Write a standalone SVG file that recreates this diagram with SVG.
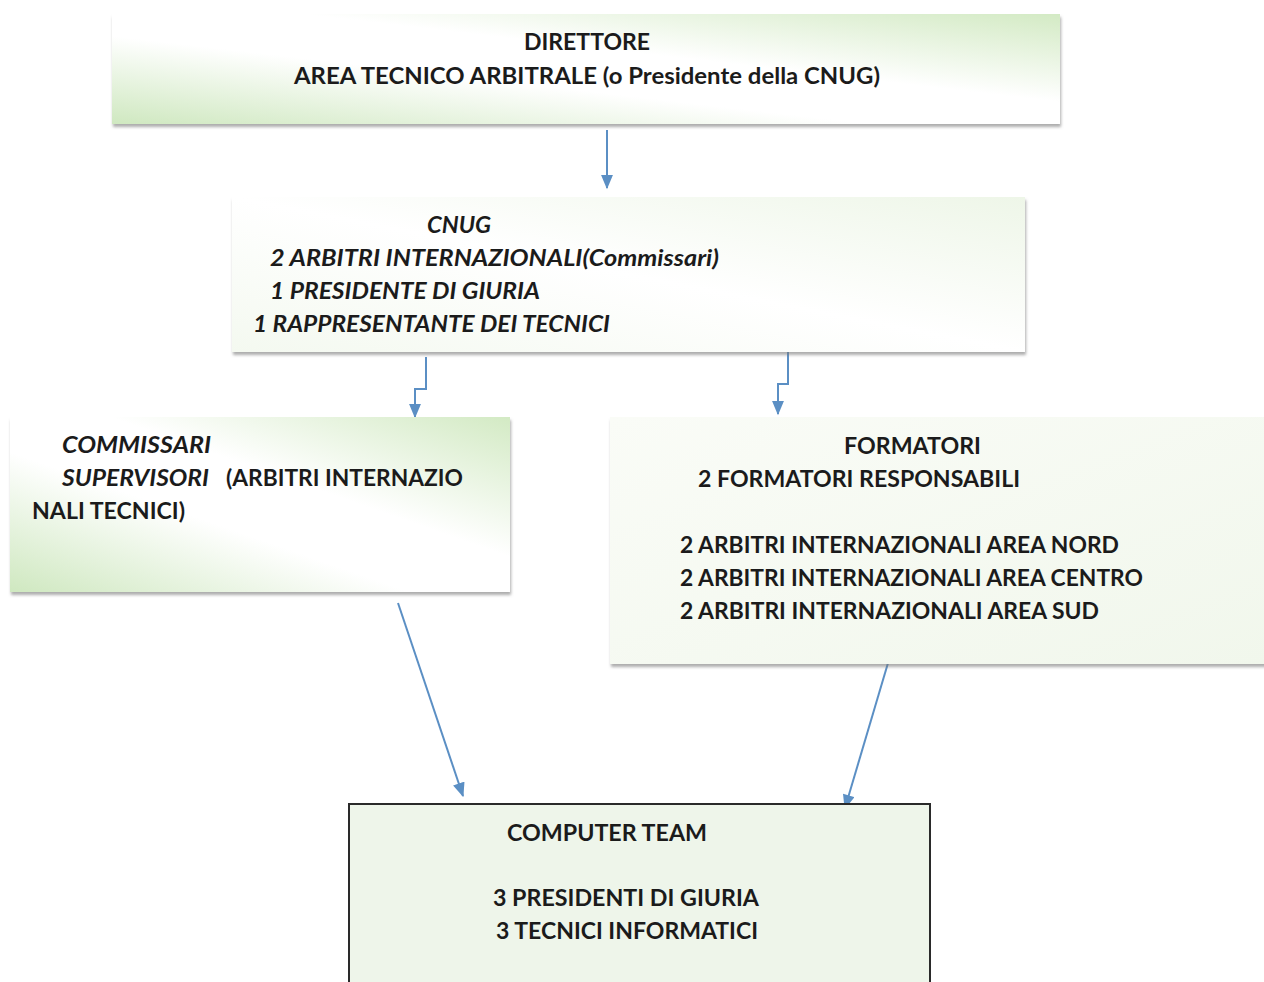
<svg xmlns="http://www.w3.org/2000/svg" width="1264" height="982" viewBox="0 0 1264 982">
<style>
text{font-family:Lato,"Open Sans","Liberation Sans",sans-serif;font-weight:bold;font-size:23px;fill:#1b1b1b}
.i{font-style:italic}
.conn{fill:none;stroke:#5b8fc4;stroke-width:2}
</style>
<defs>
<linearGradient id="gDiag" x1="0" y1="1" x2="1" y2="0">
<stop offset="0" stop-color="#cfe8c0"/>
<stop offset="0.4" stop-color="#ffffff"/>
<stop offset="0.6" stop-color="#ffffff"/>
<stop offset="1" stop-color="#d3eac4"/>
</linearGradient>
<linearGradient id="gLight" x1="0" y1="1" x2="1" y2="0">
<stop offset="0" stop-color="#f4f9f0"/>
<stop offset="0.5" stop-color="#ffffff"/>
<stop offset="1" stop-color="#eef6e8"/>
</linearGradient>
<linearGradient id="gF" x1="0" y1="0" x2="1" y2="1">
<stop offset="0" stop-color="#fafcf7"/>
<stop offset="1" stop-color="#f1f7ec"/>
</linearGradient>
<filter id="sh" x="-5%" y="-10%" width="110%" height="130%">
<feDropShadow dx="1" dy="3" stdDeviation="1.5" flood-color="#777" flood-opacity="0.6"/>
</filter>
<marker id="ah" viewBox="0 0 12 10" refX="11" refY="5" markerWidth="15" markerHeight="12" orient="auto" markerUnits="userSpaceOnUse">
<path d="M0,0 L12,5 L0,10 z" fill="#5b8fc4"/>
</marker>
</defs>

<g id="connectors">
<path class="conn" d="M607,130 L607,188" marker-end="url(#ah)"/>
<path class="conn" d="M426,357 L426,389 L415,389 L415,417" marker-end="url(#ah)"/>
<path class="conn" d="M788,350 L788,384 L778,384 L778,414" marker-end="url(#ah)"/>
<path class="conn" d="M398,603 L463,796" stroke-width="1.5" marker-end="url(#ah)"/>
<path class="conn" d="M888,663 L845,808" stroke-width="1.5" marker-end="url(#ah)"/>
</g>

<g id="direttore">
<rect x="112" y="14" width="948" height="110" fill="url(#gDiag)" filter="url(#sh)"/>
<text x="587" y="50" text-anchor="middle" textLength="126" lengthAdjust="spacingAndGlyphs">DIRETTORE</text>
<text x="294" y="84" textLength="586" lengthAdjust="spacingAndGlyphs">AREA TECNICO ARBITRALE (o Presidente della CNUG)</text>
</g>

<g id="cnug">
<rect x="232" y="197" width="793" height="155" fill="url(#gLight)" filter="url(#sh)"/>
<text class="i" x="427" y="233" textLength="64" lengthAdjust="spacingAndGlyphs">CNUG</text>
<text class="i" x="270" y="266" textLength="449" lengthAdjust="spacingAndGlyphs">2 ARBITRI INTERNAZIONALI(Commissari)</text>
<text class="i" x="270" y="299" textLength="270" lengthAdjust="spacingAndGlyphs">1 PRESIDENTE DI GIURIA</text>
<text class="i" x="253" y="332" textLength="357" lengthAdjust="spacingAndGlyphs">1 RAPPRESENTANTE DEI TECNICI</text>
</g>

<g id="commissari">
<rect x="10" y="417" width="500" height="175" fill="url(#gDiag)" filter="url(#sh)"/>
<text class="i" x="62" y="453" textLength="149" lengthAdjust="spacingAndGlyphs">COMMISSARI</text>
<text class="i" x="62" y="486" textLength="147" lengthAdjust="spacingAndGlyphs">SUPERVISORI</text>
<text x="226" y="486" textLength="237" lengthAdjust="spacingAndGlyphs">(ARBITRI INTERNAZIO</text>
<text x="32" y="519" textLength="153" lengthAdjust="spacingAndGlyphs">NALI TECNICI)</text>
</g>

<g id="formatori">
<rect x="610" y="417" width="660" height="247" fill="url(#gF)" filter="url(#sh)"/>
<text x="844" y="454" textLength="137" lengthAdjust="spacingAndGlyphs">FORMATORI</text>
<text x="698" y="487" textLength="322" lengthAdjust="spacingAndGlyphs">2 FORMATORI RESPONSABILI</text>
<text x="680" y="553" textLength="439" lengthAdjust="spacingAndGlyphs">2 ARBITRI INTERNAZIONALI AREA NORD</text>
<text x="680" y="586" textLength="463" lengthAdjust="spacingAndGlyphs">2 ARBITRI INTERNAZIONALI AREA CENTRO</text>
<text x="680" y="619" textLength="419" lengthAdjust="spacingAndGlyphs">2 ARBITRI INTERNAZIONALI AREA SUD</text>
</g>

<g id="computer-team">
<rect x="349" y="804" width="581" height="190" fill="#eef5ea" stroke="#2a2a2a" stroke-width="2"/>
<text x="507" y="841" textLength="200" lengthAdjust="spacingAndGlyphs">COMPUTER TEAM</text>
<text x="493" y="906" textLength="266" lengthAdjust="spacingAndGlyphs">3 PRESIDENTI DI GIURIA</text>
<text x="496" y="939" textLength="262" lengthAdjust="spacingAndGlyphs">3 TECNICI INFORMATICI</text>
</g>
</svg>
